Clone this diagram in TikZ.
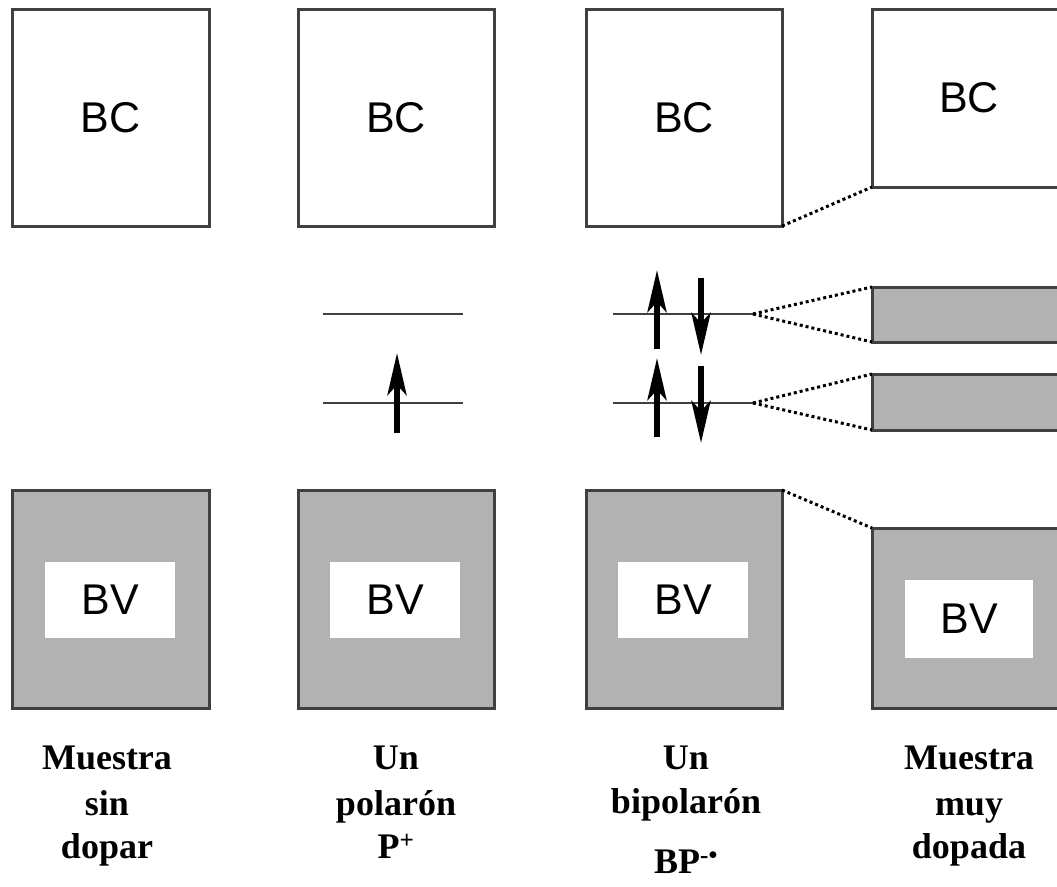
\documentclass[tikz,border=0pt]{standalone}
\usepackage{fontspec}
\setmainfont{Liberation Serif}
\newfontfamily\boxfont{Liberation Sans}
\usetikzlibrary{arrows.meta}
\tikzset{
  bandbox/.style={draw=black!75, line width=3pt, inner sep=0pt, outer sep=0pt, font=\boxfont\fontsize{43}{50}\selectfont},
  condbox/.style={bandbox, fill=white},
  valbox/.style={bandbox, fill=black!30},
  whitelabel/.style={fill=white, inner sep=0pt, outer sep=0pt, minimum width=130pt, minimum height=76pt, font=\boxfont\fontsize{43}{50}\selectfont},
  level/.style={draw=black!75, line width=2.5pt},
  spin/.style={line width=6pt, -{Stealth[length=42pt,width=19pt,inset=10pt]}},
  link/.style={line width=3pt, dash pattern=on 3pt off 3pt, draw=black},
  caption/.style={font=\bfseries\fontsize{36}{40}\selectfont, anchor=base, inner sep=0pt}
}
\begin{document}
\begin{tikzpicture}[x=1pt,y=-1pt]
\useasboundingbox (0,0) rectangle (1057,886);
\clip (0,0) rectangle (1057,886);
% conduction bands
\node[condbox, minimum width=197pt, minimum height=217pt] (bc1) at (110.5,117.5) {BC};
\node[condbox, minimum width=196pt, minimum height=217pt] (bc2) at (396,117.5) {BC};
\node[condbox, minimum width=196pt, minimum height=217pt] (bc3) at (684,117.5) {BC};
\node[condbox, minimum width=196pt, minimum height=178pt] (bc4) at (970,98) {};
\node[font=\boxfont\fontsize{43}{50}\selectfont, inner sep=0pt] (bc4t) at (969,98) {BC};
% valence bands
\node[valbox, minimum width=197pt, minimum height=218pt] (bv1) at (110.5,599) {};
\node[valbox, minimum width=196pt, minimum height=218pt] (bv2) at (396,599) {};
\node[valbox, minimum width=196pt, minimum height=218pt] (bv3) at (684,599) {};
\node[valbox, minimum width=196pt, minimum height=180pt] (bv4) at (970,618) {};
\node[whitelabel] (bv1t) at (110,600) {BV};
\node[whitelabel] (bv2t) at (395,600) {BV};
\node[whitelabel] (bv3t) at (683,600) {BV};
\node[whitelabel, minimum width=128pt, minimum height=78pt] (bv4t) at (969,619) {BV};
% bands in heavily doped sample
\node[valbox, minimum width=196pt, minimum height=55pt] (band1) at (970,314.5) {};
\node[valbox, minimum width=196pt, minimum height=56pt] (band2) at (970,402) {};
% levels
\coordinate (p1l) at (323,314); \coordinate (p1r) at (463,314);
\coordinate (p2l) at (323,403); \coordinate (p2r) at (463,403);
\coordinate (b1l) at (613,314); \coordinate (b1r) at (753,314);
\coordinate (b2l) at (613,403); \coordinate (b2r) at (753,403);
\draw[level] (p1l) -- (p1r);
\draw[level] (p2l) -- (p2r);
\draw[level] (b1l) -- (b1r);
\draw[level] (b2l) -- (b2r);
% spins
\coordinate (s1a) at (397,433); \coordinate (s1b) at (397,353);
\draw[spin] (s1a) -- (s1b);
\coordinate (u1a) at (657,349); \coordinate (u1b) at (657,270);
\coordinate (u2a) at (657,437); \coordinate (u2b) at (657,358);
\coordinate (d1a) at (701,278); \coordinate (d1b) at (701,355);
\coordinate (d2a) at (701,366); \coordinate (d2b) at (701,443);
\draw[spin] (u1a) -- (u1b);
\draw[spin] (u2a) -- (u2b);
\draw[spin] (d1a) -- (d1b);
\draw[spin] (d2a) -- (d2b);
% dotted links
\draw[link] (bc3.south east) -- (bc4.south west);
\draw[link] (b1r) -- (band1.north west);
\draw[link] (b1r) -- (band1.south west);
\draw[link] (b2r) -- (band2.north west);
\draw[link] (b2r) -- (band2.south west);
\draw[link] (bv3.north east) -- (bv4.north west);
% captions
\node[caption] (c1a) at (107,769) {Muestra};
\node[caption] (c1b) at (107,815) {sin};
\node[caption] (c1c) at (107,858) {dopar};
\node[caption] (c2a) at (396,769) {Un};
\node[caption] (c2b) at (396,815) {polarón};
\node[caption] (c2c) at (396,858) {P\textsuperscript{+}};
\node[caption] (c3a) at (686,769) {Un};
\node[caption] (c3b) at (686,813) {bipolarón};
\node[caption] (c3c) at (686,873) {BP\textsuperscript{-•}};
\node[caption] (c4a) at (969,769) {Muestra};
\node[caption] (c4b) at (969,815) {muy};
\node[caption] (c4c) at (969,858) {dopada};
\end{tikzpicture}
\end{document}
